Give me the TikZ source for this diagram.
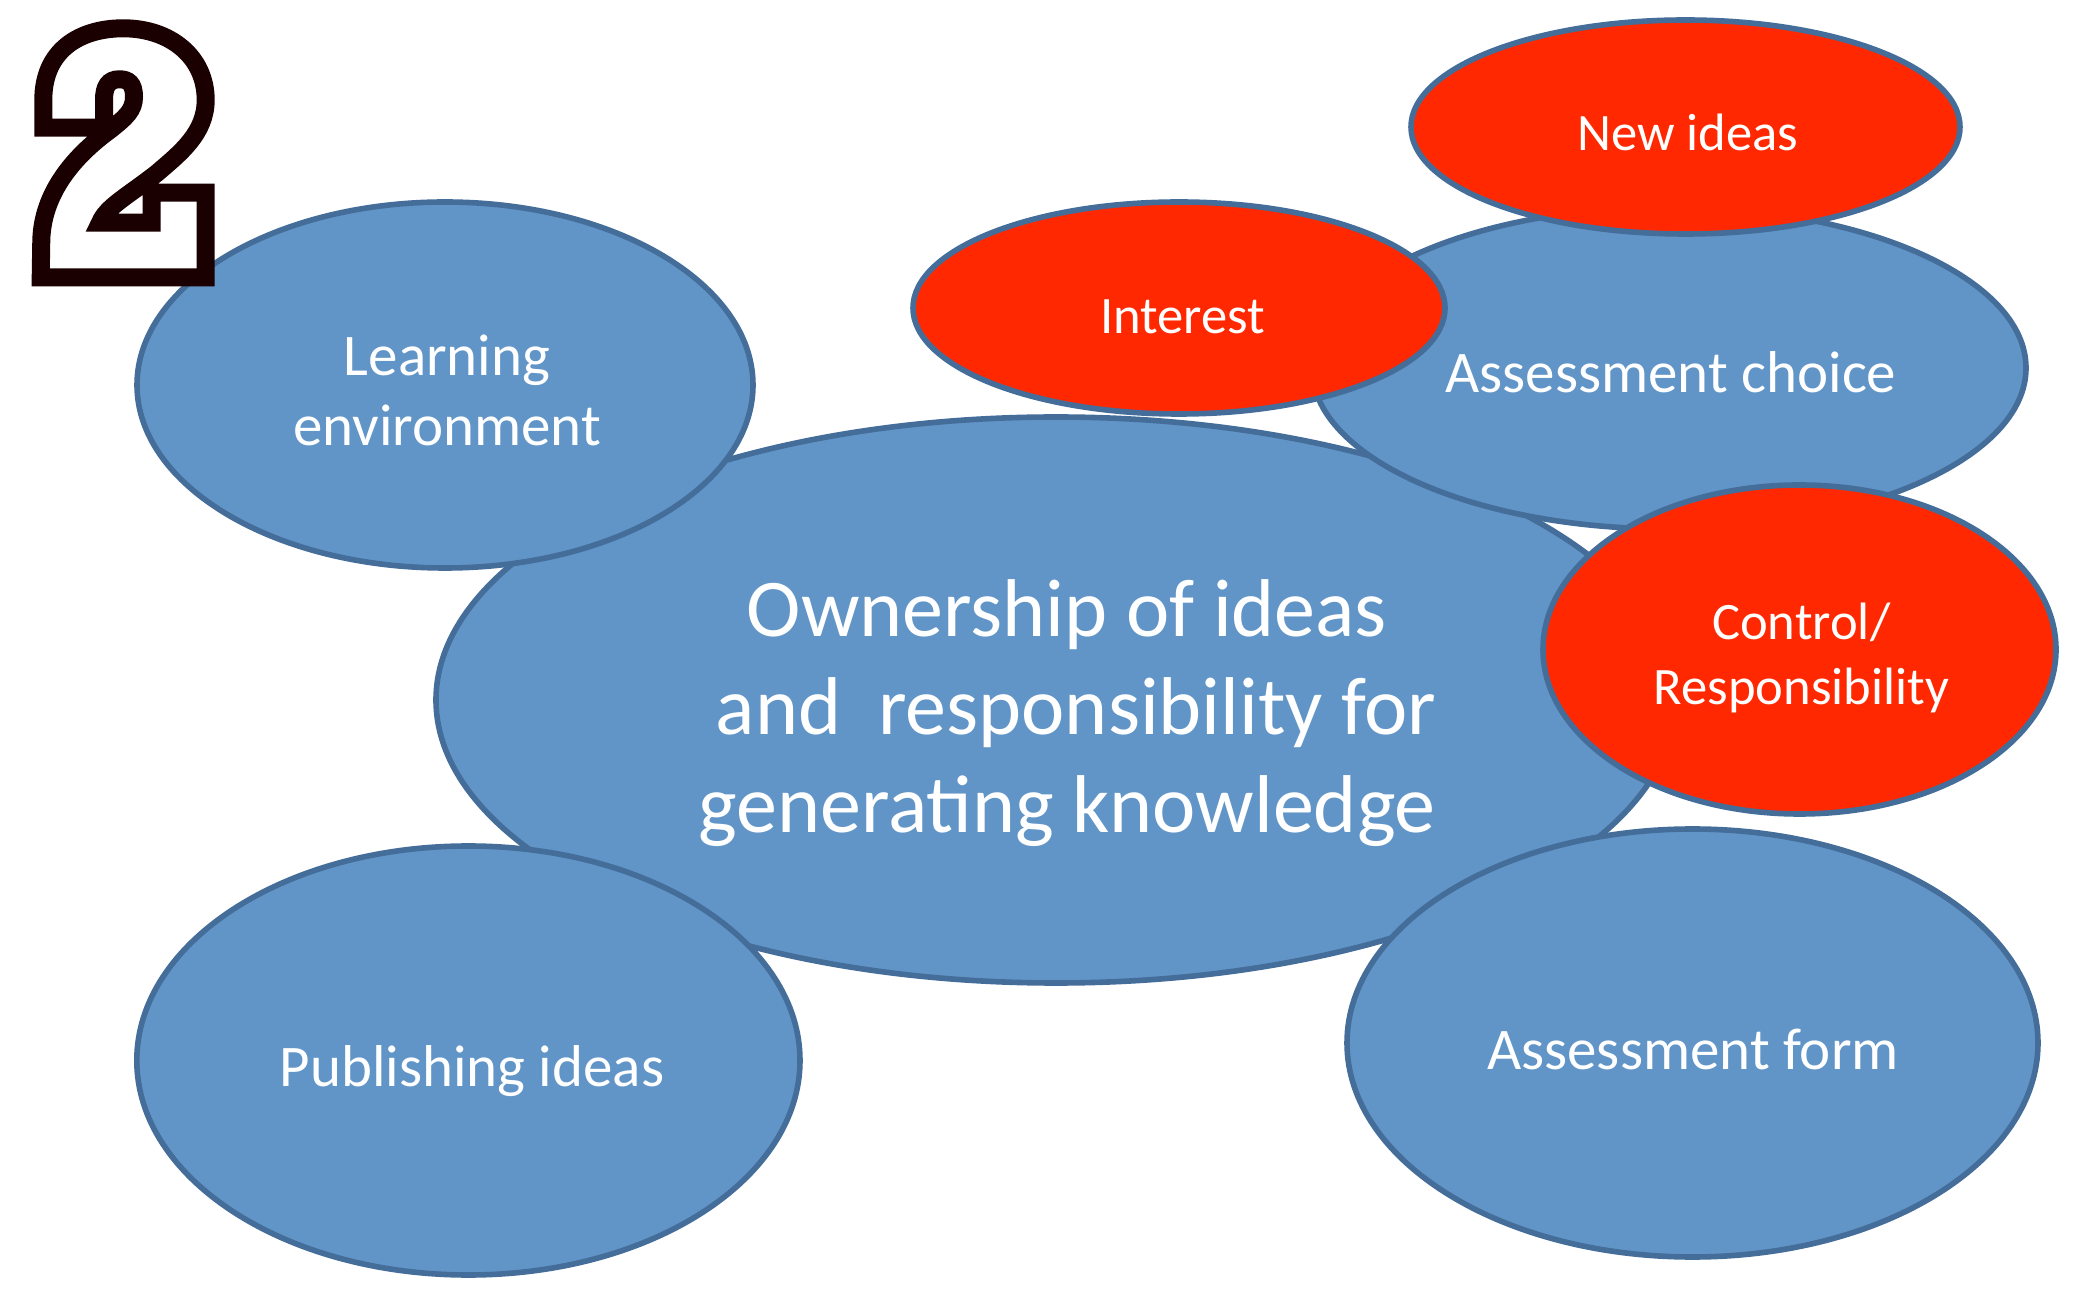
\documentclass[tikz,border=0pt]{standalone}
\usepackage{fontspec}
\setmainfont{Carlito}
\usetikzlibrary{shapes.geometric,calc}
\definecolor{bluefill}{RGB}{97,149,199}
\definecolor{blueedge}{RGB}{68,109,154}
\definecolor{redfill}{RGB}{255,40,0}
\definecolor{digitink}{RGB}{26,0,0}
\tikzset{
  bubble/.style={ellipse, draw=blueedge, line width=2.8pt, fill=bluefill, inner sep=0pt},
  redbubble/.style={bubble, fill=redfill},
  bluetext/.style={text=white, inner sep=0pt, align=center, font=\fontsize{29.5}{35.2}\selectfont},
  redtext/.style={text=white, inner sep=0pt, align=center, font=\fontsize{26.3}{32.5}\selectfont},
  bigtext/.style={text=white, inner sep=0pt, align=center, font=\fontsize{41}{49}\selectfont},
  digit/.style={draw=digitink, line width=9pt, fill=white, line join=miter}
}
\begin{document}
\begin{tikzpicture}[x=0.5pt,y=-0.5pt]
\useasboundingbox (0,0) rectangle (2084,1293);
\fill[white] (0,0) rectangle (2084,1293);
% ellipses (px coordinates; widths in pt = px/2)
\node[bubble, minimum width=620pt, minimum height=283pt] (own) at (1056,700) {};
\node[bigtext] (ownt) at ($(own.center)+(11,12.6)$) {Ownership of ideas\\\hspace*{9.3pt}and\ \ responsibility for\\generating knowledge};
\node[bubble, minimum width=308pt, minimum height=183pt] (learn) at (445,385) {};
\node[bluetext] (learnt) at ($(learn.center)+(2,5.3)$) {Learning\\environment};
\node[bubble, minimum width=331.6pt, minimum height=214.5pt] (pub) at (468.4,1060.5) {};
\node[bluetext] (pubt) at ($(pub.center)+(3.6,10.5)$) {Publishing ideas};
\node[bubble, minimum width=345.5pt, minimum height=214pt] (form) at (1692.5,1043) {};
\node[bluetext] (formt) at ($(form.center)+(0.5,6)$) {Assessment form};
\node[bubble, minimum width=357pt, minimum height=161pt] (choice) at (1669,368) {};
\node[bluetext] (choicet) at ($(choice.center)+(2,4.7)$) {Assessment choice};
\node[redbubble, minimum width=266pt, minimum height=106pt] (interest) at (1179,308) {};
\node[redtext] (interestt) at ($(interest.center)+(3.7,8.6)$) {Interest};
\node[redbubble, minimum width=274.5pt, minimum height=107pt] (newideas) at (1685.5,127) {};
\node[redtext] (newideast) at ($(newideas.center)+(2.2,5.3)$) {New ideas};
\node[redbubble, minimum width=256.5pt, minimum height=164.5pt] (control) at (1799.5,649.5) {};
\node[redtext] (controlt) at ($(control.center)+(1.8,8.5)$) {Control/\\Responsibility};
% the outlined digit
\draw[digit] (43.3,100) .. controls (43.3,50) and (80,28.3) .. (123.3,28.3)
  .. controls (170,28.3) and (205.7,56.7) .. (205.7,100)
  .. controls (205.7,133.3) and (180,153.3) .. (156.7,173.3)
  .. controls (126.7,196.7) and (106.7,206.7) .. (100,222.7)
  -- (151.7,222.7) -- (151.7,192.7) -- (205.7,192.7) -- (205.7,277.3) -- (40.7,277.3) -- (41.3,240)
  .. controls (42.7,193.3) and (73.3,156.7) .. (110,130)
  .. controls (126.7,116.7) and (134,110) .. (134,96.7)
  .. controls (134,83.3) and (128.3,79.3) .. (119.3,79.3)
  .. controls (108.3,79.3) and (104,86.7) .. (104,100)
  -- (104,127.7) -- (43.3,127.7) -- cycle;
\end{tikzpicture}
\end{document}
